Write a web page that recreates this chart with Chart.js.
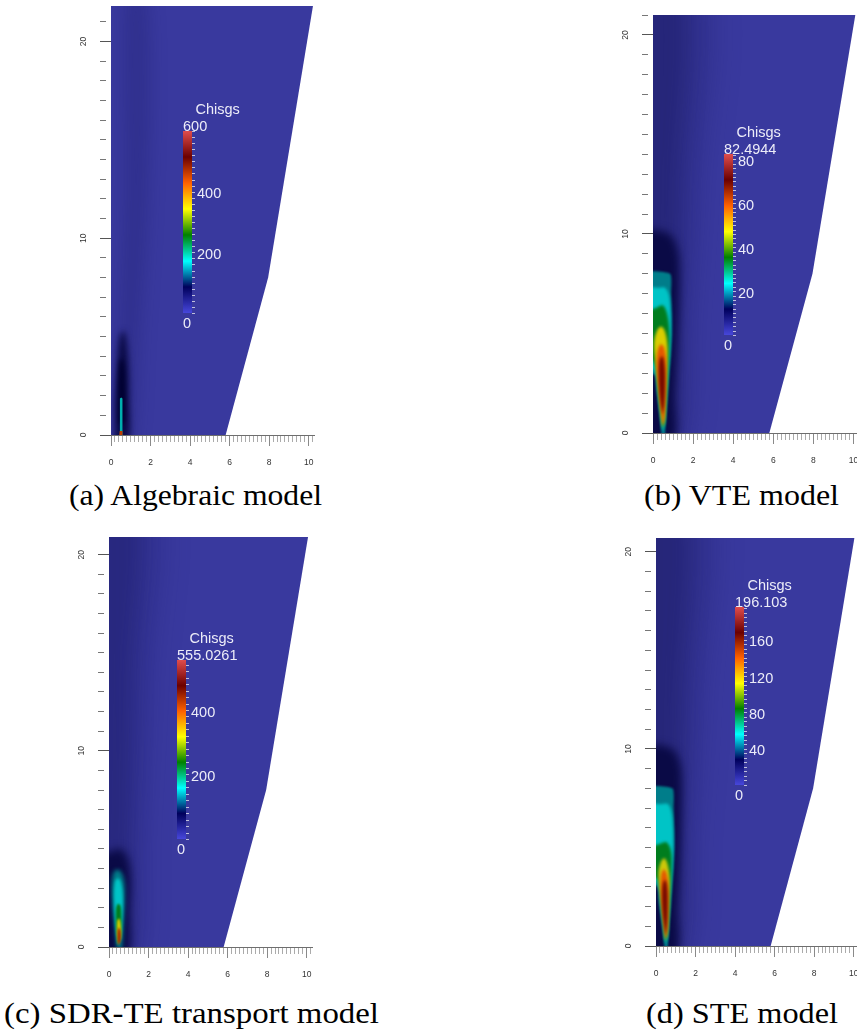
<!DOCTYPE html>
<html><head><meta charset="utf-8">
<script src="https://cdn.jsdelivr.net/npm/chart.js@4.4.1/dist/chart.umd.min.js"></script>
<style>
html,body{margin:0;padding:0;background:#fff;width:857px;height:1032px;overflow:hidden;}
#wrap{position:relative;width:857px;height:1032px;overflow:hidden;}
#wrap canvas{position:absolute;}
.cap{position:absolute;font-family:"Liberation Serif","Times New Roman",serif;font-size:29px;line-height:29px;white-space:nowrap;color:#000;}
.cap .t{display:inline-block;transform-origin:0 50%;}
</style></head><body><div id="wrap"></div>
<script>
// ---------------- DATA ----------------
// computational domain outline (x, y)
const domain = [[0,0],[5.8,0],[7.95,8],[10.25,22],[0,22]];

// colour map stops (ParaView "Rainbow Desaturated")
const cmapPos = [0, 0.143, 0.285, 0.429, 0.571, 0.714, 0.857, 1];
const cmapColors = ['#4747db','#00005c','#00ffff','#008000','#ffff00','#ff6100','#6b0000','#e04d4d'];

// axis tick labels
const xMajorTicks = [0, 2, 4, 6, 8, 10];
const yMajorTicks = [0, 10, 20];

// (a) Algebraic model contour outlines
const aWake  = [[0.5,-1],[1.1,-1],[1.5,5],[1.9,12],[2.0,20],[1.6,23],[0.7,23],[0.6,12],[0.3,5]];
const aHalo  = [[0.2,-0.5],[0.85,-0.5],[0.92,2],[0.86,4],[0.66,5.3],[0.45,5.0],[0.3,3.5],[0.18,1.5]];
const aCore  = [[0.4,0.6],[0.66,0.6],[0.7,2.5],[0.6,3.8],[0.45,3.8],[0.37,2.5]];
const aCyan  = [[0.45,0],[0.58,0],[0.58,1.85],[0.52,1.9],[0.45,1.85]];
const aRed   = [[0.42,0],[0.6,0],[0.58,0.2],[0.44,0.2]];

// (b) VTE model contour outlines
const bWakeOut = [[-1,-1],[1.3,-1],[1.9,6],[2.3,12],[2.6,23],[-1,23]];
const bWakeIn  = [[-1,-1],[0.9,-1],[1.2,6],[1.3,12],[1.4,23],[-1,23]];
const bHalo   = [[-0.5,-0.5],[1.0,-0.5],[1.1,2],[1.25,5],[1.32,8.2],[1.2,9.3],[0.8,10],[-0.5,10.3]];
const bTeal   = [[0.44,-0.3],[0.58,-0.3],[0.62,0.5],[0.67,1.2],[0.72,2],[0.79,3],[0.87,4],[0.93,5],[0.93,6],[0.9,7],[0.85,8],[-0.5,8],[-0.5,3.2],[0.1,2.9],[0.22,2],[0.33,1.1],[0.4,0.4]];
const bCyan   = [[0.46,0.1],[0.58,0.4],[0.64,1.2],[0.7,2],[0.77,3],[0.85,4],[0.89,5],[0.88,6],[0.8,6.9],[0.6,7.3],[0.3,7.3],[-0.5,7.2],[-0.5,3.6],[0.08,3.1],[0.22,2.1],[0.34,1.1]];
const bGreen  = [[0.47,0.2],[0.57,0.5],[0.62,1.2],[0.68,2],[0.74,3],[0.8,4],[0.82,5],[0.72,5.9],[0.5,6.4],[0.2,6.3],[-0.3,6],[-0.3,4.2],[0.1,3.4],[0.25,2.2],[0.36,1.2]];
const bYellow = [[0.48,0.3],[0.57,0.7],[0.62,1.5],[0.67,2.5],[0.71,3.5],[0.72,4.4],[0.6,5.1],[0.4,5.35],[0.18,5.1],[0.05,4.5],[0.12,3.6],[0.24,2.5],[0.36,1.4]];
const bOrange = [[0.49,0.3],[0.57,0.8],[0.62,1.8],[0.65,2.8],[0.65,3.7],[0.55,4.3],[0.38,4.45],[0.22,4.1],[0.18,3.4],[0.27,2.4],[0.38,1.3]];
const bRed    = [[0.48,0.9],[0.56,1.5],[0.6,2.4],[0.58,3.3],[0.47,3.85],[0.34,3.7],[0.29,3.0],[0.33,2.0],[0.41,1.3]];

// (c) SDR-TE transport model contour outlines
const cWakeOut = [[-1,-1],[1.2,-1],[1.7,6],[2.1,14],[2.3,23],[-1,23]];
const cWakeIn  = [[-1,-1],[0.9,-1],[1.1,6],[1.2,14],[1.3,23],[-1,23]];
const cHalo   = [[-0.5,-0.5],[0.9,-0.5],[1.05,2],[1.1,3.5],[0.95,4.5],[0.6,5.0],[0.2,4.9],[-0.5,4.7]];
const cTeal   = [[0.42,-0.2],[0.62,-0.2],[0.72,1.2],[0.8,2.5],[0.76,3.4],[0.55,3.9],[0.3,3.9],[0.15,3.4],[0.15,2.4],[0.3,1]];
const cCyan   = [[0.44,0.1],[0.6,0.5],[0.68,1.5],[0.7,2.6],[0.6,3.3],[0.45,3.5],[0.3,3.3],[0.25,2.5],[0.32,1.2]];
const cGreen  = [[0.45,0.1],[0.6,0.6],[0.63,1.5],[0.58,2.1],[0.45,2.2],[0.35,1.9],[0.36,1.0]];
const cYellow = [[0.47,0.1],[0.6,0.5],[0.6,1.1],[0.52,1.45],[0.42,1.35],[0.4,0.7]];
const cRed    = [[0.48,0.1],[0.58,0.3],[0.58,0.8],[0.5,1.0],[0.44,0.8],[0.44,0.3]];

// (d) STE model contour outlines
const dWakeOut = [[-1,-1],[1.3,-1],[1.9,6],[2.3,12],[2.6,23],[-1,23]];
const dWakeIn  = [[-1,-1],[0.9,-1],[1.2,6],[1.3,12],[1.4,23],[-1,23]];
const dHalo   = [[-0.5,-0.5],[1.0,-0.5],[1.1,2],[1.24,5],[1.3,8.2],[1.2,9.3],[0.8,10],[-0.5,10.3]];
const dTeal   = [[0.44,-0.3],[0.58,-0.3],[0.62,0.5],[0.67,1.2],[0.73,2],[0.8,3],[0.87,4],[0.92,5],[0.92,6],[0.89,7],[0.83,8],[-0.5,8],[-0.5,3.3],[0.08,3.0],[0.2,2],[0.32,1.1],[0.4,0.4]];
const dCyan   = [[0.46,0.1],[0.58,0.4],[0.64,1.2],[0.7,2],[0.77,3],[0.84,4],[0.88,5],[0.86,6],[0.78,6.8],[0.6,7.2],[0.3,7.2],[-0.5,7.1],[-0.5,3.7],[0.06,3.2],[0.2,2.1],[0.34,1.1]];
const dGreen  = [[0.47,0.2],[0.57,0.5],[0.62,1.2],[0.68,2],[0.74,3],[0.79,4],[0.76,4.8],[0.55,5.25],[0.25,5.2],[-0.3,4.9],[-0.3,3.8],[0.1,3.3],[0.25,2.2],[0.36,1.2]];
const dYellow = [[0.48,0.3],[0.57,0.7],[0.62,1.5],[0.66,2.5],[0.69,3.4],[0.6,4.1],[0.42,4.45],[0.22,4.2],[0.12,3.6],[0.22,2.6],[0.36,1.4]];
const dOrange = [[0.49,0.3],[0.57,0.8],[0.61,1.8],[0.63,2.8],[0.56,3.6],[0.4,3.9],[0.26,3.6],[0.24,2.9],[0.3,2.0],[0.39,1.2]];
const dRed    = [[0.48,0.5],[0.56,1.1],[0.59,2.0],[0.57,2.9],[0.47,3.35],[0.36,3.2],[0.31,2.6],[0.34,1.7],[0.42,1.0]];

// colour bars
const cbarTitle = 'Chisgs';
const cbarMaxA = 600,      cbarTopA = '600',      cbarTicksA = [400, 200],         cbarMinorA = 20;
const cbarMaxB = 82.4944,  cbarTopB = '82.4944',  cbarTicksB = [80, 60, 40, 20],   cbarMinorB = 2;
const cbarMaxC = 555.0261, cbarTopC = '555.0261', cbarTicksC = [400, 200],         cbarMinorC = 20;
const cbarMaxD = 196.103,  cbarTopD = '196.103',  cbarTicksD = [160, 120, 80, 40], cbarMinorD = 5;

const captions = ['(a) Algebraic model', '(b) VTE model', '(c) SDR-TE transport model', '(d) STE model'];

// ---------------- STYLE / LAYOUT ----------------
const domainColor = 'rgb(57,57,158)';
const C = {
  wakeOut: 'rgba(25,25,100,0.3)', wakeIn: 'rgba(15,15,80,0.3)', halo: 'rgb(10,10,70)', core: 'rgb(0,0,48)',
  teal: 'rgb(0,125,138)', cyan: 'rgb(0,196,198)', green: 'rgb(0,125,30)',
  yellow: 'rgb(218,205,0)', orange: 'rgb(228,88,0)', red: 'rgb(118,10,0)'
};

const panels = [
  { L:111, T:6, R:314, B:435, yMax:21.8, xMax:10.27,
    cbar:{x0:3.66, x1:4.08, y0:6.19, y1:15.45}, cmax:cbarMaxA, ctop:cbarTopA, cticks:cbarTicksA, cminor:cbarMinorA,
    layers:[
      {pts:aWake, color:'rgba(25,25,100,0.25)', blur:8},
      {pts:aHalo, color:C.halo, blur:3},
      {pts:aCore, color:C.core, blur:2},
      {pts:aCyan, color:'rgb(0,175,175)', blur:0.4, tension:0},
      {pts:aRed, color:'rgb(190,60,0)', blur:0.3, tension:0}
    ],
    cap:captions[0], capL:69, capR:322, capBase:505 },
  { L:653, T:15, R:859, B:433, yMax:21.0, xMax:10.27,
    cbar:{x0:3.54, x1:3.97, y0:4.93, y1:14.04}, cmax:cbarMaxB, ctop:cbarTopB, cticks:cbarTicksB, cminor:cbarMinorB,
    layers:[
      {pts:bWakeOut, color:C.wakeOut, blur:14},
      {pts:bWakeIn, color:C.wakeIn, blur:10},
      {pts:bHalo, color:C.halo, blur:4},
      {pts:bTeal, color:C.teal, blur:1, tension:0.2},
      {pts:bCyan, color:C.cyan, blur:1.5},
      {pts:bGreen, color:C.green, blur:1.5},
      {pts:bYellow, color:C.yellow, blur:1.5},
      {pts:bOrange, color:C.orange, blur:1.5},
      {pts:bRed, color:C.red, blur:1.5}
    ],
    cap:captions[1], capL:644, capR:839, capBase:505 },
  { L:109, T:537, R:312, B:947, yMax:20.9, xMax:10.27,
    cbar:{x0:3.44, x1:3.89, y0:5.50, y1:14.62}, cmax:cbarMaxC, ctop:cbarTopC, cticks:cbarTicksC, cminor:cbarMinorC,
    layers:[
      {pts:cWakeOut, color:'rgba(25,25,100,0.25)', blur:14},
      {pts:cWakeIn, color:'rgba(15,15,80,0.25)', blur:10},
      {pts:cHalo, color:C.halo, blur:4},
      {pts:cTeal, color:C.teal, blur:2},
      {pts:cCyan, color:C.cyan, blur:1.5},
      {pts:cGreen, color:C.green, blur:1.2},
      {pts:cYellow, color:C.yellow, blur:1},
      {pts:cRed, color:'rgb(160,25,0)', blur:1}
    ],
    cap:captions[2], capL:4, capR:379, capBase:1023 },
  { L:656, T:538, R:859, B:946, yMax:20.7, xMax:10.27,
    cbar:{x0:4.0, x1:4.46, y0:8.15, y1:17.21}, cmax:cbarMaxD, ctop:cbarTopD, cticks:cbarTicksD, cminor:cbarMinorD,
    layers:[
      {pts:dWakeOut, color:C.wakeOut, blur:14},
      {pts:dWakeIn, color:C.wakeIn, blur:10},
      {pts:dHalo, color:C.halo, blur:4},
      {pts:dTeal, color:C.teal, blur:1, tension:0.2},
      {pts:dCyan, color:C.cyan, blur:1.5},
      {pts:dGreen, color:C.green, blur:1.5},
      {pts:dYellow, color:'rgb(205,200,10)', blur:1.5},
      {pts:dOrange, color:C.orange, blur:1.5},
      {pts:dRed, color:C.red, blur:1.5}
    ],
    cap:captions[3], capL:646, capR:838, capBase:1023 }
];

// ---------------- RENDER ----------------
const wrap = document.getElementById('wrap');
const near = (v, m) => Math.abs(v / m - Math.round(v / m)) < 1e-6;
const tickFont = {family: '"Liberation Sans", Arial, sans-serif', size: 8.5};
const cbFont = '14.5px "Liberation Sans", Arial, sans-serif';

function blurOf(chart, idx) {
  const b = chart.data.datasets[idx].blurPx || 0;
  return b > 0 ? 'blur(' + b + 'px)' : 'none';
}

const fieldPlugin = {
  id: 'fieldPlugin',
  beforeDatasetsDraw(chart) {
    const metas = chart.getSortedVisibleDatasetMetas();
    chart.ctx.save();
    chart.ctx.filter = blurOf(chart, metas[metas.length - 1].index);
  },
  afterDatasetDraw(chart, args) {
    const metas = chart.getSortedVisibleDatasetMetas();
    const pos = metas.findIndex(m => m.index === args.index);
    const next = metas[pos - 1];
    chart.ctx.filter = next ? blurOf(chart, next.index) : 'none';
  },
  afterDatasetsDraw(chart) {
    const ctx = chart.ctx;
    ctx.restore();
    ctx.filter = 'none';
    const p = chart.options.plugins.fieldPlugin.panel;
    const xs = chart.scales.x, ys = chart.scales.y;
    const bx0 = Math.round(xs.getPixelForValue(p.cbar.x0)), bx1 = Math.round(xs.getPixelForValue(p.cbar.x1));
    const by0 = Math.round(ys.getPixelForValue(p.cbar.y0)), by1 = Math.round(ys.getPixelForValue(p.cbar.y1));
    const g = ctx.createLinearGradient(0, by0, 0, by1);
    cmapPos.forEach((s, i) => g.addColorStop(s, cmapColors[i]));
    ctx.save();
    ctx.fillStyle = g;
    ctx.fillRect(bx0, by1, bx1 - bx0, by0 - by1);
    const vpix = v => by0 + (by1 - by0) * v / p.cmax;
    ctx.strokeStyle = 'rgba(215,215,230,0.85)';
    ctx.lineWidth = 1;
    ctx.beginPath();
    for (let v = 0; v <= p.cmax + 1e-9; v += p.cminor) {
      const y = Math.round(vpix(v)) + 0.5;
      ctx.moveTo(bx1, y); ctx.lineTo(bx1 + 3, y);
    }
    ctx.stroke();
    ctx.fillStyle = '#ececf8';
    ctx.font = cbFont;
    ctx.textAlign = 'left';
    ctx.textBaseline = 'alphabetic';
    ctx.fillText(cbarTitle, bx0 + 12.5, by1 - 17.5);
    ctx.fillText(p.ctop, bx0, by1 - 0.5);
    p.cticks.forEach(v => ctx.fillText(String(v), bx1 + 5, vpix(v) + 6.7));
    ctx.fillText('0', bx0, by0 + 15.2);
    ctx.restore();
  }
};

panels.forEach(p => {
  const padT = 4, padR = 4, yW = 40, xH = 40;
  const W = Math.round(p.R - p.L + yW + padR), H = Math.round(p.B - p.T + padT + xH);
  const cv = document.createElement('canvas');
  cv.width = W; cv.height = H;
  cv.style.width = W + 'px'; cv.style.height = H + 'px';
  cv.style.left = (p.L - yW) + 'px'; cv.style.top = (p.T - padT) + 'px';
  wrap.appendChild(cv);
  const layers = [{pts: domain, color: domainColor, blur: 0, tension: 0}].concat(p.layers);
  const N = layers.length;
  const datasets = layers.map((ly, i) => ({
    data: ly.pts.map(q => ({x: q[0], y: q[1]})),
    showLine: true, fill: 'shape', backgroundColor: ly.color,
    borderWidth: 0, borderColor: 'rgba(0,0,0,0)',
    pointRadius: 0, pointHoverRadius: 0, pointHitRadius: 0,
    tension: ly.tension !== undefined ? ly.tension : 0.35,
    order: N - i, clip: 0, blurPx: ly.blur
  }));
  new Chart(cv, {
    type: 'scatter',
    data: {datasets},
    options: {
      responsive: false, animation: false, events: [],
      layout: {padding: {top: padT, right: padR, left: 0, bottom: 0}},
      plugins: {legend: {display: false}, tooltip: {enabled: false}, fieldPlugin: {panel: p}},
      scales: {
        x: {
          type: 'linear', min: 0, max: p.xMax,
          afterFit(s) { s.height = xH; s.paddingLeft = 0; s.paddingRight = 0; },
          ticks: {
            stepSize: 0.2, autoSkip: false, includeBounds: false, minRotation: 0, maxRotation: 0,
            padding: 12, color: '#333', font: tickFont,
            callback: v => (xMajorTicks.some(t => Math.abs(t - v) < 1e-6) ? String(Math.round(v)) : '')
          },
          grid: {
            drawOnChartArea: false, drawTicks: true, tickLength: 11, tickWidth: 1,
            tickColor: c => (c.tick && near(c.tick.value, 2) ? '#8a8a8a' : '#ababab'),
            tickBorderDash: c => (c.tick && near(c.tick.value, 2) ? [] : [6, 30])
          },
          border: {display: true, color: '#6e6e6e', width: 1, z: 1}
        },
        y: {
          type: 'linear', min: 0, max: p.yMax,
          afterFit(s) { s.width = yW; s.paddingTop = 0; s.paddingBottom = 0; },
          ticks: {
            stepSize: 1, autoSkip: false, includeBounds: false, minRotation: 90, maxRotation: 90,
            crossAlign: 'center', padding: 12, color: '#333', font: tickFont,
            callback: v => (yMajorTicks.some(t => Math.abs(t - v) < 1e-6) ? String(Math.round(v)) : '')
          },
          grid: {
            drawOnChartArea: false, drawTicks: true, tickLength: 11, tickWidth: 1,
            tickColor: c => (c.tick && near(c.tick.value, 10) ? '#555' : '#777'),
            tickBorderDash: c => (c.tick && near(c.tick.value, 10) ? [] : [6, 30])
          },
          border: {display: false}
        }
      }
    },
    plugins: [fieldPlugin]
  });

  // caption (real HTML text), stretched horizontally to the reference extent
  const d = document.createElement('div');
  d.className = 'cap';
  d.innerHTML = '<span class="t"></span><span style="display:inline-block;width:0;height:0;vertical-align:baseline"></span>';
  const t = d.querySelector('.t');
  t.textContent = p.cap;
  wrap.appendChild(d);
  const w = t.getBoundingClientRect().width;
  t.style.transform = 'scaleX(' + ((p.capR - p.capL) / w) + ')';
  const baseOff = d.lastChild.offsetTop;
  d.style.left = p.capL + 'px';
  d.style.top = (p.capBase - baseOff) + 'px';
});
</script>
</body></html>
